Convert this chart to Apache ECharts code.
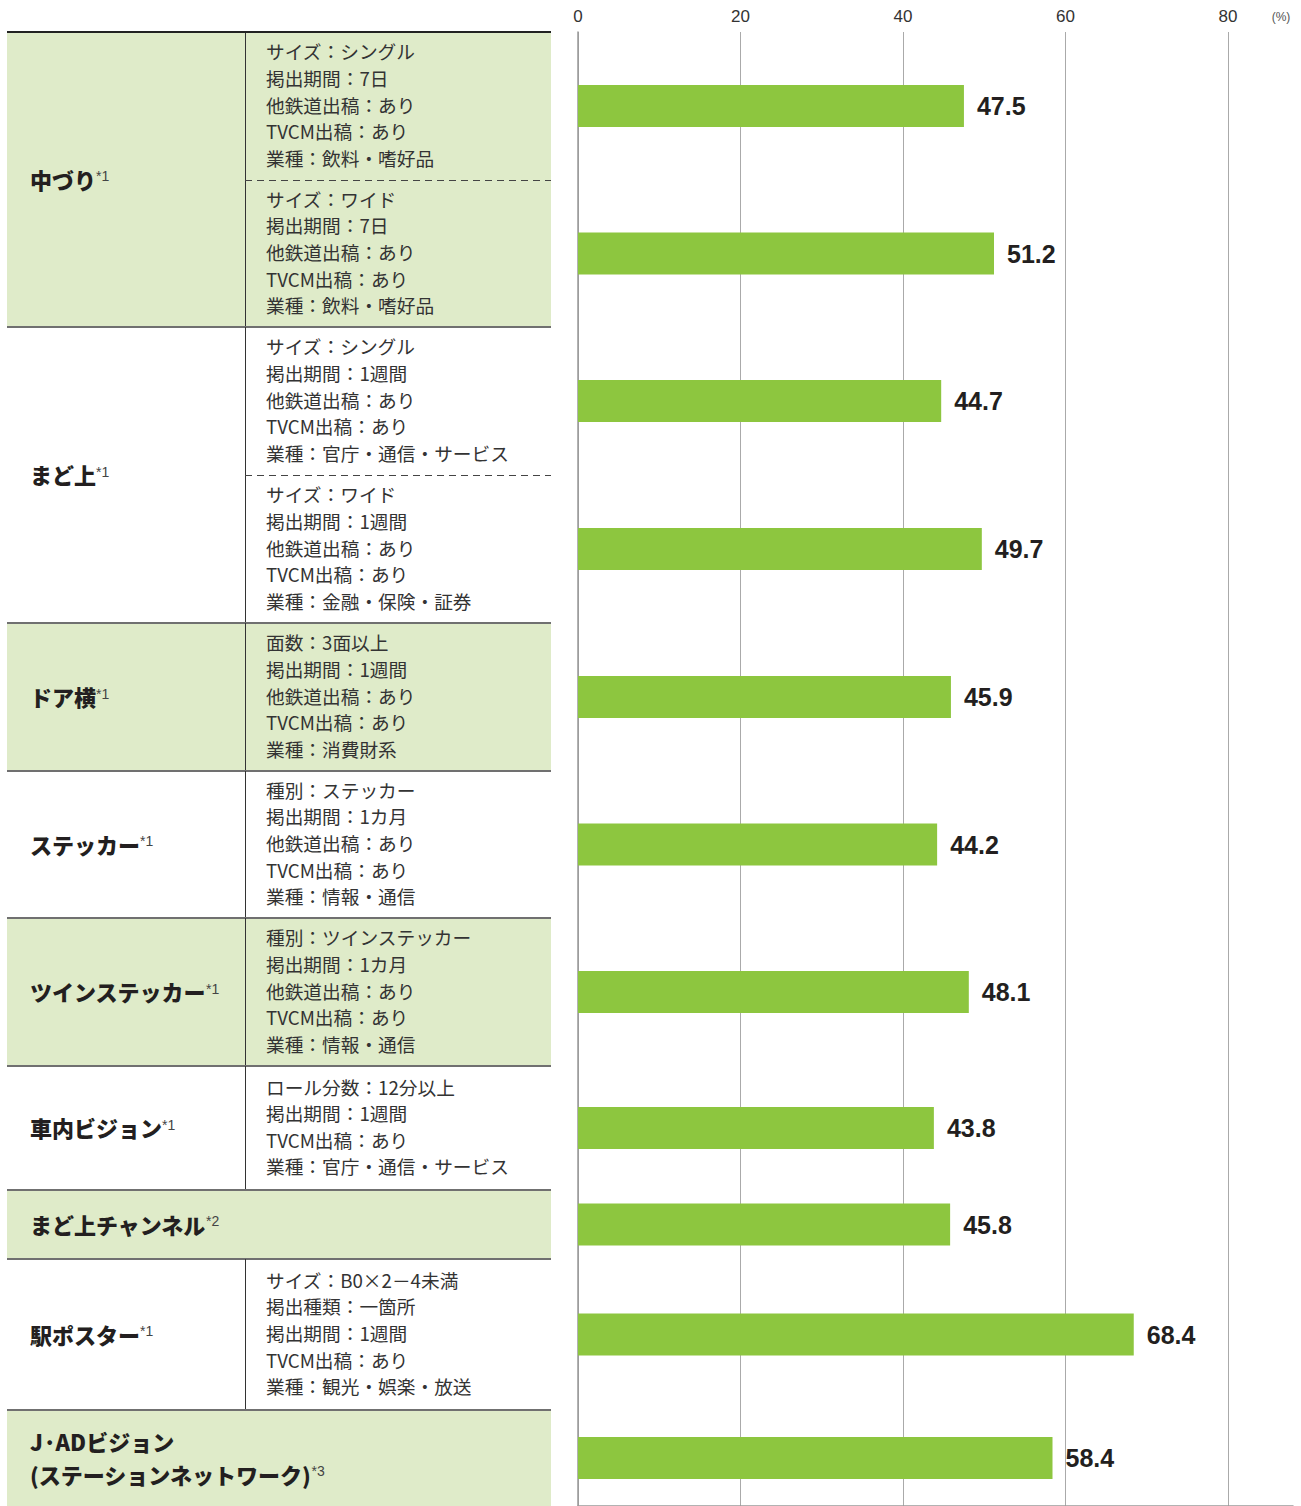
<!DOCTYPE html>
<html>
<head>
<meta charset="utf-8">
<script src="https://cdn.jsdelivr.net/npm/echarts@6/dist/echarts.min.js"></script>
<style>
html, body { margin: 0; padding: 0; background: #fff; }
#main { width: 1301px; height: 1506px; }
</style>
</head>
<body>
<div id="main"></div>
<script>
// 媒体名と注記
var mediaNames = ["中づり", "まど上", "ドア横", "ステッカー", "ツインステッカー", "車内ビジョン", "まど上チャンネル", "駅ポスター", "J·ADビジョン\n(ステーションネットワーク)"];
var mediaNotes = ["*1", "*1", "*1", "*1", "*1", "*1", "*2", "*1", "*3"];

// 各バーの掲出条件（バー1本につき1行）
var conditions = [
  ["サイズ：シングル", "掲出期間：7日", "他鉄道出稿：あり", "TVCM出稿：あり", "業種：飲料・嗜好品"],
  ["サイズ：ワイド", "掲出期間：7日", "他鉄道出稿：あり", "TVCM出稿：あり", "業種：飲料・嗜好品"],
  ["サイズ：シングル", "掲出期間：1週間", "他鉄道出稿：あり", "TVCM出稿：あり", "業種：官庁・通信・サービス"],
  ["サイズ：ワイド", "掲出期間：1週間", "他鉄道出稿：あり", "TVCM出稿：あり", "業種：金融・保険・証券"],
  ["面数：3面以上", "掲出期間：1週間", "他鉄道出稿：あり", "TVCM出稿：あり", "業種：消費財系"],
  ["種別：ステッカー", "掲出期間：1カ月", "他鉄道出稿：あり", "TVCM出稿：あり", "業種：情報・通信"],
  ["種別：ツインステッカー", "掲出期間：1カ月", "他鉄道出稿：あり", "TVCM出稿：あり", "業種：情報・通信"],
  ["ロール分数：12分以上", "掲出期間：1週間", "TVCM出稿：あり", "業種：官庁・通信・サービス"],
  [],
  ["サイズ：B0×2－4未満", "掲出種類：一箇所", "掲出期間：1週間", "TVCM出稿：あり", "業種：観光・娯楽・放送"],
  []
];
var rowMedia = [0, 0, 1, 1, 2, 3, 4, 5, 6, 7, 8];
var scores = [47.5, 51.2, 44.7, 49.7, 45.9, 44.2, 48.1, 43.8, 45.8, 68.4, 58.4];
var xTicks = [0, 20, 40, 60, 80];

// レイアウト
var rowHeights = [148, 147, 148, 148, 148, 147, 148, 124, 69, 151, 96];
var tableTop = 32, tableLeft = 7, tableRight = 551, colX = 245;
var plotLeft = 578, plotRight = 8, xMax = 88;
var green = "#dfebc9";
var jpFont = '"Noto Sans CJK JP", "Noto Sans", sans-serif';
var numFont = '"Liberation Sans", Arial, sans-serif';

var rowTops = [];
var y = tableTop;
rowHeights.forEach(function (h) { rowTops.push(y); y += h; });

// グループ（媒体）ごとの範囲
var groups = mediaNames.map(function () { return { top: null, bottom: null, rows: [] }; });
rowMedia.forEach(function (g, i) {
  var grp = groups[g];
  if (grp.top === null) grp.top = rowTops[i];
  grp.bottom = rowTops[i] + rowHeights[i];
  grp.rows.push(i);
});

var graphics = [];

groups.forEach(function (grp, g) {
  var hasCond = conditions[grp.rows[0]].length > 0;
  if (g % 2 === 0) {
    graphics.push({
      type: "rect", silent: true, z: 0,
      shape: { x: tableLeft, y: grp.top, width: tableRight - tableLeft, height: grp.bottom - grp.top },
      style: { fill: green }
    });
  }
  if (g > 0) {
    graphics.push({
      type: "line", silent: true, z: 2,
      shape: { x1: tableLeft, y1: grp.top, x2: tableRight, y2: grp.top },
      style: { stroke: "#707070", lineWidth: 2 }
    });
  }
  if (hasCond) {
    graphics.push({
      type: "line", silent: true, z: 2,
      shape: { x1: colX + 0.5, y1: grp.top, x2: colX + 0.5, y2: grp.bottom },
      style: { stroke: "#333", lineWidth: 1 }
    });
  }
  // 媒体名
  var lines = mediaNames[g].split("\n");
  var txt = lines.map(function (l, k) {
    return k === lines.length - 1 ? "{b|" + l + "}{s|" + mediaNotes[g] + "}" : "{b|" + l + "}";
  }).join("\n");
  graphics.push({
    type: "text", silent: true, z: 3,
    style: {
      x: 30, y: (grp.top + grp.bottom) / 2 - 1,
      text: txt,
      verticalAlign: "middle", align: "left",
      rich: {
        b: { fontFamily: jpFont, fontSize: 22, fontWeight: 900, fill: "#231f20", lineHeight: 33 },
        s: { fontFamily: numFont, fontSize: 14, fill: "#444", lineHeight: 33, padding: [0, 0, 5, 0] }
      }
    }
  });
  // 条件の区切り（破線）
  grp.rows.forEach(function (r, k) {
    if (k > 0) {
      graphics.push({
        type: "line", silent: true, z: 2,
        shape: { x1: colX, y1: rowTops[r] + 0.5, x2: tableRight, y2: rowTops[r] + 0.5 },
        style: { stroke: "#444", lineWidth: 1, lineDash: [7, 5] }
      });
    }
  });
});

// 上端の罫線
graphics.push({
  type: "line", silent: true, z: 2,
  shape: { x1: tableLeft, y1: tableTop, x2: tableRight, y2: tableTop },
  style: { stroke: "#222", lineWidth: 2 }
});

// 条件テキスト
conditions.forEach(function (list, i) {
  if (!list.length) return;
  graphics.push({
    type: "text", silent: true, z: 3,
    style: {
      x: 266, y: rowTops[i] + rowHeights[i] / 2 - 2,
      text: list.join("\n"),
      fontFamily: jpFont, fontSize: 18.7, fill: "#333",
      lineHeight: 26.6,
      verticalAlign: "middle", align: "left"
    }
  });
});

// 単位
graphics.push({
  type: "text", silent: true, z: 3,
  style: { x: 1281, y: 17, text: "(%)", fontFamily: numFont, fontSize: 12, fill: "#555", align: "center", verticalAlign: "middle" }
});

// グリッド：全体（目盛り・格子線）＋ バーごと
var grids = [{ left: plotLeft, right: plotRight, top: tableTop, bottom: 0, outerBoundsMode: "none", containLabel: false }];
var xAxes = [{
  type: "value", gridIndex: 0, position: "top",
  min: xTicks[0], max: xMax, interval: xTicks[1] - xTicks[0],
  axisLine: { show: true, lineStyle: { color: "#999", width: 1.5 } },
  axisTick: { show: false },
  axisLabel: {
    margin: 7, fontFamily: numFont, fontSize: 17, color: "#333", showMaxLabel: false,
    formatter: function (v) { return xTicks.indexOf(v) >= 0 ? String(v) : ""; }
  },
  splitLine: { show: true, showMaxLine: false, lineStyle: { color: "#aaa", width: 1 } }
}];
var yAxes = [{
  type: "value", gridIndex: 0, min: 0, max: 1,
  axisLine: { show: true, lineStyle: { color: "#999", width: 1.5 } },
  axisTick: { show: false }, axisLabel: { show: false }, splitLine: { show: false }
}];
var series = [];

scores.forEach(function (v, i) {
  var idx = i + 1;
  grids.push({ left: plotLeft, right: plotRight, top: rowTops[i], height: rowHeights[i], outerBoundsMode: "none", containLabel: false });
  xAxes.push({ type: "value", gridIndex: idx, min: 0, max: xMax, show: false });
  yAxes.push({ type: "category", gridIndex: idx, data: [mediaNames[rowMedia[i]] + i], show: false });
  series.push({
    type: "bar", xAxisIndex: idx, yAxisIndex: idx,
    data: [v], barWidth: 42,
    itemStyle: { color: "#8dc63f" },
    label: {
      show: true, position: "right", distance: 13,
      fontFamily: numFont, fontSize: 25, fontWeight: "bold", color: "#231f20",
      formatter: function (p) { return p.value.toFixed(1); }
    },
    silent: true, animation: false
  });
});

var chart = echarts.init(document.getElementById("main"), null, { renderer: "svg" });
var option = {
  backgroundColor: "#fff",
  animation: false,
  grid: grids,
  xAxis: xAxes,
  yAxis: yAxes,
  series: series,
  graphic: { elements: graphics }
};
chart.setOption(option);
window.addEventListener("resize", function () { chart.resize(); });
</script>
</body>
</html>
